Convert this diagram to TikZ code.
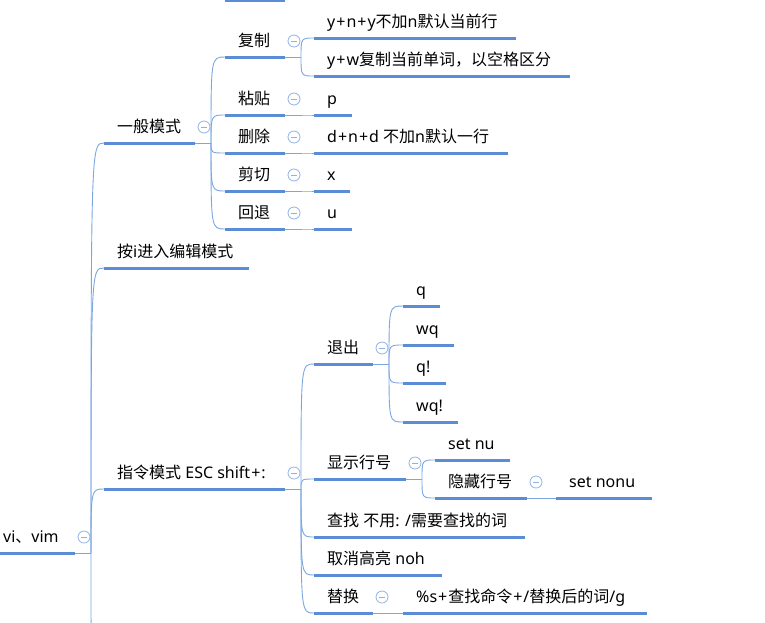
\documentclass[tikz,border=0pt]{standalone}
\usepackage{fontspec}
\setmainfont{Noto Sans}
\newfontfamily\cjkfont{Noto Sans CJK SC}
\newcommand\zh[1]{{\cjkfont #1}}
\newcommand\pl{\kern1pt+\kern1pt}
\definecolor{barblue}{RGB}{91,141,214}
\definecolor{connblue}{RGB}{123,166,224}
\definecolor{foldblue}{RGB}{143,178,230}
\tikzset{
  bar/.style={draw=barblue, line width=3pt},
  conn/.style={draw=connblue, line width=0.9pt},
  lbl/.style={anchor=base west, inner sep=0pt, font=\fontsize{16}{18}\selectfont, text=black},
  fold/.style={circle, draw=foldblue, line width=0.8pt, minimum size=12pt, inner sep=0pt,
    path picture={\draw[foldblue, line width=1pt]
      ([xshift=-3pt]path picture bounding box.center) -- ([xshift=3pt]path picture bounding box.center);}},
}
% #1 name, #2 left, #3 right, #4 underline y, #5 text
\newcommand\topic[5]{%
  \draw[bar] (#2,#4) coordinate (#1-l) -- (#3,#4) coordinate (#1-r);
  \node[lbl] (#1) at (#2+13,#4-10.5) {#5};
  \coordinate (#1-j) at (#3+16,#4);
}
\newcommand\foldmark[1]{\node[fold] (#1-f) at ([xshift=9pt,yshift=16pt]#1-r) {};}
\newcommand\stem[1]{\draw[conn] (#1-r) -- (#1-j);}
\newcommand\link[2]{\draw[conn] (#1-j) .. controls (#1-j |- #2-l) .. (#2-l);}
\begin{document}
\begin{tikzpicture}[x=1pt,y=-1pt]
\useasboundingbox (0,0) rectangle (765,622);
\clip (0,0) rectangle (765,622);
% connectors first (drawn under bars)
\coordinate (root-r) at (75,553);
\coordinate (root-j) at (91,553);
\coordinate (gen-r) at (195,143);  \coordinate (gen-j) at (211,143);
\coordinate (cmd-r) at (285,489);  \coordinate (cmd-j) at (301,489);
\coordinate (copy-r) at (285,57);  \coordinate (copy-j) at (301,57);
\coordinate (paste-r) at (285,115);\coordinate (paste-j) at (301,115);
\coordinate (del-r) at (285,153);  \coordinate (del-j) at (301,153);
\coordinate (cut-r) at (285,191);  \coordinate (cut-j) at (301,191);
\coordinate (undo-r) at (285,229); \coordinate (undo-j) at (301,229);
\coordinate (quit-r) at (373,364); \coordinate (quit-j) at (389,364);
\coordinate (shownu-r) at (406,479); \coordinate (shownu-j) at (422,479);
\coordinate (hide-r) at (527,498); \coordinate (hide-j) at (543,498);
\coordinate (rep-r) at (373,613);  \coordinate (rep-j) at (389,613);
\coordinate (gen-l) at (104,143);
\coordinate (ins-l) at (104,268);
\coordinate (cmd-l) at (104,489);
\coordinate (more-l) at (104,720);
\coordinate (copy-l) at (225,57);
\coordinate (paste-l) at (225,115);
\coordinate (del-l) at (225,153);
\coordinate (cut-l) at (225,191);
\coordinate (undo-l) at (225,229);
\coordinate (c1-l) at (314,38);
\coordinate (c2-l) at (314,76);
\coordinate (p-l) at (314,115);
\coordinate (d-l) at (314,153);
\coordinate (x-l) at (314,191);
\coordinate (u-l) at (314,229);
\coordinate (quit-l) at (314,364);
\coordinate (shownu-l) at (314,479);
\coordinate (find-l) at (314,537);
\coordinate (noh-l) at (314,575);
\coordinate (rep-l) at (314,613);
\coordinate (q-l) at (403,306);
\coordinate (wq-l) at (403,345);
\coordinate (qb-l) at (403,383);
\coordinate (wqb-l) at (403,422);
\coordinate (nu-l) at (435,460);
\coordinate (hide-l) at (435,498);
\coordinate (nonu-l) at (556,498);
\coordinate (sub-l) at (403,613);

\foreach \a in {root,gen,cmd,copy,paste,del,cut,undo,quit,shownu,hide,rep} {\stem{\a}}
\foreach \c in {gen,ins,cmd,more} {\link{root}{\c}}
\foreach \c in {copy,paste,del,cut,undo} {\link{gen}{\c}}
\foreach \c in {c1,c2} {\link{copy}{\c}}
\link{paste}{p}
\link{del}{d}
\link{cut}{x}
\link{undo}{u}
\foreach \c in {quit,shownu,find,noh,rep} {\link{cmd}{\c}}
\foreach \c in {q,wq,qb,wqb} {\link{quit}{\c}}
\foreach \c in {nu,hide} {\link{shownu}{\c}}
\link{hide}{nonu}
\link{rep}{sub}

% cut-off bar at the top edge
\draw[bar] (225,0) coordinate (top-l) -- (285,0) coordinate (top-r);

% topics
\topic{root}{-10}{75}{553}{vi\zh{、}vim}
\topic{gen}{104}{195}{143}{\zh{一般模式}}
\topic{ins}{104}{249}{268}{\zh{按}i\zh{进入编辑模式}}
\topic{cmd}{104}{285}{489}{\zh{指令模式} ESC shift\pl:}
\topic{copy}{225}{285}{57}{\zh{复制}}
\topic{paste}{225}{285}{115}{\zh{粘贴}}
\topic{del}{225}{285}{153}{\zh{删除}}
\topic{cut}{225}{285}{191}{\zh{剪切}}
\topic{undo}{225}{285}{229}{\zh{回退}}
\topic{c1}{314}{516}{38}{y\pl n\pl y\zh{不加}n\zh{默认当前行}}
\topic{c2}{314}{570}{76}{y\pl w\zh{复制当前单词，以空格区分}}
\topic{p}{314}{352}{115}{p}
\topic{d}{314}{508}{153}{d\pl n\pl d \zh{不加}n\zh{默认一行}}
\topic{x}{314}{350}{191}{x}
\topic{u}{314}{352}{229}{u}
\topic{quit}{314}{373}{364}{\zh{退出}}
\topic{shownu}{314}{406}{479}{\zh{显示行号}}
\topic{find}{314}{525}{537}{\zh{查找} \zh{不用}: /\zh{需要查找的词}}
\topic{noh}{314}{442}{575}{\zh{取消高亮} noh}
\topic{rep}{314}{373}{613}{\zh{替换}}
\topic{q}{403}{440}{306}{q}
\topic{wq}{403}{454}{345}{wq}
\topic{qb}{403}{446}{383}{q!}
\topic{wqb}{403}{458}{422}{wq!}
\topic{nu}{435}{510}{460}{set nu}
\topic{hide}{435}{527}{498}{\zh{隐藏行号}}
\topic{nonu}{556}{652}{498}{set nonu}
\topic{sub}{403}{647}{613}{\%s\pl\zh{查找命令}\pl/\zh{替换后的词}/g}

\foreach \a in {root,gen,cmd,copy,paste,del,cut,undo,quit,shownu,hide,rep} {\foldmark{\a}}
\end{tikzpicture}
\end{document}
